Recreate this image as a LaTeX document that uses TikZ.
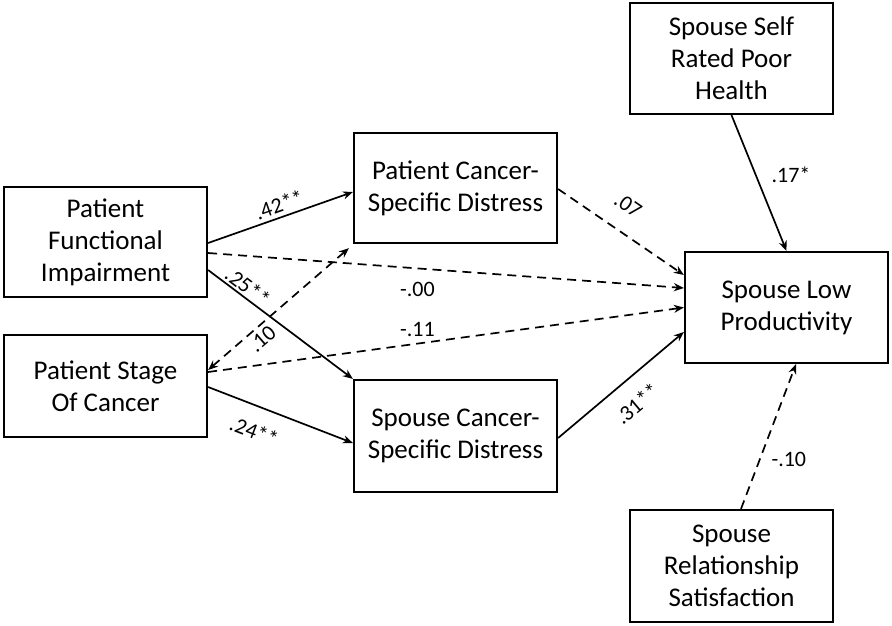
\documentclass[tikz,border=0pt]{standalone}
\usepackage{fontspec}
\setmainfont{Carlito}
\usetikzlibrary{arrows.meta}

\begin{document}
\begin{tikzpicture}[x=1pt,y=-1pt,
  box/.style={draw,line width=2.2pt,minimum width=203pt,minimum height=110pt,
    align=center,inner sep=0pt,font=\fontsize{27}{32}\selectfont},
  solidarr/.style={line width=1.7pt,-{Stealth[length=10pt,width=8pt]}},
  dasharr/.style={solidarr,dash pattern=on 9pt off 6pt},
  coef/.style={font=\fontsize{22}{24}\selectfont,inner sep=2pt}]
\useasboundingbox (0,0) rectangle (892,625);

% variables
\node[box] (pfi) at (105.5,242) {Patient\\Functional\\Impairment};
\node[box,minimum height=102pt] (psc) at (105.5,386) {Patient Stage\\Of Cancer};
\node[box] (pcd) at (455.5,188) {Patient Cancer-\\Specific Distress};
\node[box,minimum height=112pt] (psd) at (455.5,436) {Spouse Cancer-\\Specific Distress};
\node[box,minimum height=111pt] (sph) at (731.5,58.5) {Spouse Self\\Rated Poor\\Health};
\node[box,minimum height=111pt] (slp) at (786.5,307.5) {Spouse Low\\Productivity};
\node[box,minimum height=112pt] (srs) at (731.5,566) {Spouse\\Relationship\\Satisfaction};

% paths
\draw[solidarr] ([yshift=-1pt]pfi.east) -- node[coef,sloped,above=2pt,pos=0.52] {.42**} ([yshift=-4pt]pcd.west);
\draw[dasharr] ([yshift=-11pt]pfi.east) -- node[coef,pos=0.44,below=11pt] {-.00} ([yshift=19.5pt]slp.west);
\draw[solidarr] ([yshift=-28pt]pfi.east) -- node[coef,sloped,above,pos=0.23] {.25**} (psd.north west);
\draw[dasharr,{Stealth[length=10pt,width=8pt]}-{Stealth[length=10pt,width=8pt]}] ([yshift=16pt]psc.east) -- node[coef,sloped,below=2pt,pos=0.33] {.10} ([shift={(-4pt,-4pt)}]pcd.south west);
\draw[dasharr] ([yshift=14pt]psc.east) -- node[coef,pos=0.44,above=4pt] {-.11} (slp.west);
\draw[solidarr] ([yshift=-1pt]psc.east) -- node[coef,sloped,below=14pt,pos=0.38] {.24**} ([yshift=-7pt]psd.west);
\draw[dasharr] ([yshift=-1pt]pcd.east) -- node[coef,sloped,above=16pt,pos=0.44] {.07} ([yshift=32.5pt]slp.west);
\draw[solidarr] ([yshift=-2pt]psd.east) -- node[coef,sloped,below=14pt,pos=0.5] {.31**} ([yshift=-24.5pt]slp.west);
\draw[solidarr] (sph.south) -- node[coef,pos=0.44,right=13pt] {.17*} (slp.north);
\draw[dasharr] ([xshift=9.5pt]srs.north) -- node[coef,pos=0.34,right=9pt] {-.10} ([xshift=9.5pt]slp.south);
\end{tikzpicture}
\end{document}
